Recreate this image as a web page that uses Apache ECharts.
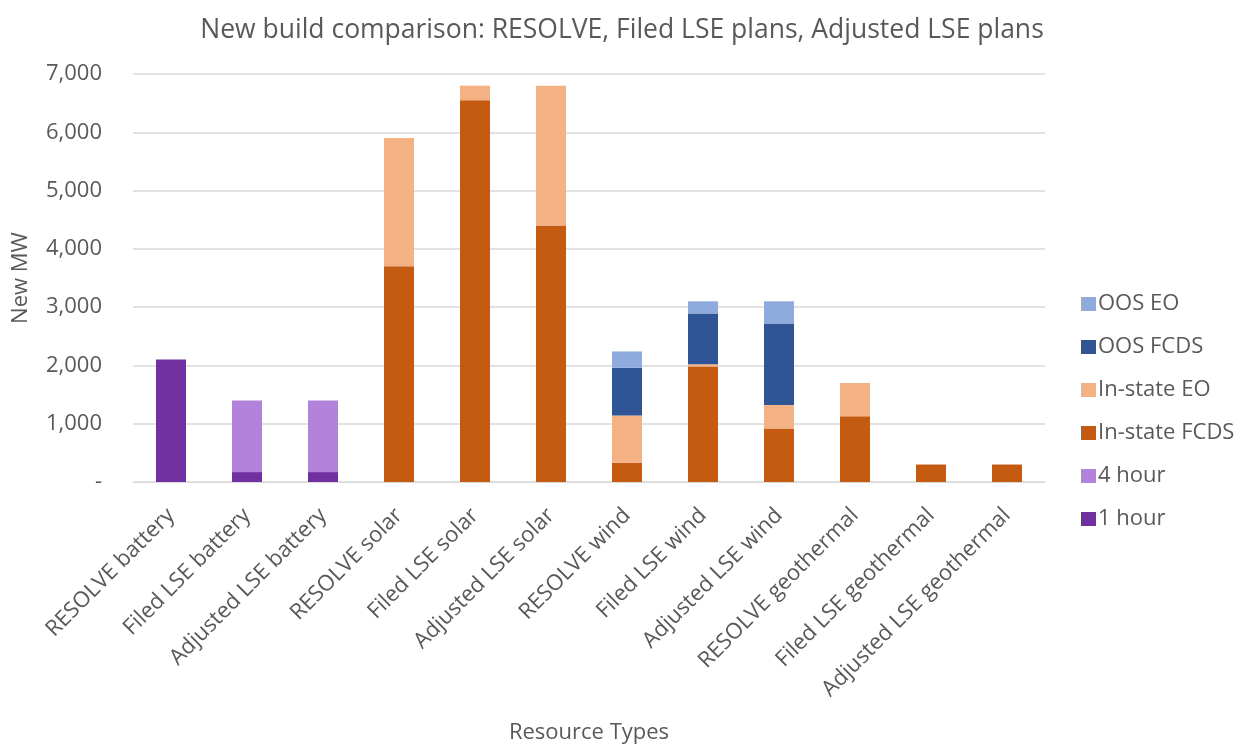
<!DOCTYPE html>
<html>
<head>
<meta charset="utf-8">
<script src="https://cdn.jsdelivr.net/npm/echarts@6/dist/echarts.min.js"></script>
<style>html,body{margin:0;padding:0;background:#fff}#c{width:1241px;height:746px}</style>
</head>
<body>
<div id="c"></div>
<script>
const categories = ["RESOLVE battery","Filed LSE battery","Adjusted LSE battery","RESOLVE solar","Filed LSE solar","Adjusted LSE solar","RESOLVE wind","Filed LSE wind","Adjusted LSE wind","RESOLVE geothermal","Filed LSE geothermal","Adjusted LSE geothermal"];
const oneHour   = [2100,170,170,0,0,0,0,0,0,0,0,0];
const fourHour  = [0,1230,1230,0,0,0,0,0,0,0,0,0];
const inFCDS    = [0,0,0,3700,6550,4400,330,1980,920,1130,300,300];
const inEO      = [0,0,0,2200,250,2400,810,40,400,570,0,0];
const oosFCDS   = [0,0,0,0,0,0,820,870,1400,0,0,0];
const oosEO     = [0,0,0,0,0,0,280,210,380,0,0,0];
const seriesNames = ["1 hour","4 hour","In-state FCDS","In-state EO","OOS FCDS","OOS EO"];
const colors = ["#7030A0","#B383DB","#C55A11","#F4B183","#2F5597","#8FAADC"];
const values = [oneHour,fourHour,inFCDS,inEO,oosFCDS,oosEO];

const font = "'Open Sans', sans-serif";
const chart = echarts.init(document.getElementById('c'));
chart.setOption({
  animation:false,
  textStyle:{fontFamily:font},
  title:{text:"New build comparison: RESOLVE, Filed LSE plans, Adjusted LSE plans",left:617,textAlign:'center',top:12,
    textStyle:{fontFamily:font,fontSize:26.5,fontWeight:'normal',color:'#595959'}},
  legend:{orient:'vertical',left:1076,top:288,itemWidth:15,itemHeight:14,itemGap:21,
    icon:'rect',data:seriesNames.slice().reverse(),
    textStyle:{fontFamily:font,fontSize:22,color:'#595959',padding:[0,0,0,-3]}},
  grid:{left:133,right:196,top:74,bottom:264,outerBoundsMode:'none',containLabel:false},
  xAxis:{type:'category',data:categories,
    name:'Resource Types',nameLocation:'middle',nameGap:240,
    nameTextStyle:{fontFamily:font,fontSize:22,color:'#595959'},
    axisTick:{show:false},
    axisLine:{lineStyle:{color:'#D9D9D9'}},
    axisLabel:{rotate:45,interval:0,margin:30,fontSize:22,color:'#595959',fontFamily:font}},
  yAxis:{type:'value',min:0,max:7000,interval:1000,
    name:'New MW',nameLocation:'middle',nameGap:101,
    nameTextStyle:{fontFamily:font,fontSize:22,color:'#595959'},
    axisLine:{show:false},axisTick:{show:false},
    splitLine:{lineStyle:{color:'#D9D9D9',width:1.5}},
    axisLabel:{fontSize:22,color:'#595959',margin:31,fontFamily:font,
      formatter:v=> v===0 ? '-' : v.toLocaleString('en-US')}},
  series: seriesNames.map((n,i)=>({
    name:n,type:'bar',stack:'total',data:values[i],barWidth:30,
    itemStyle:{color:colors[i]}
  }))
});
</script>
</body>
</html>
